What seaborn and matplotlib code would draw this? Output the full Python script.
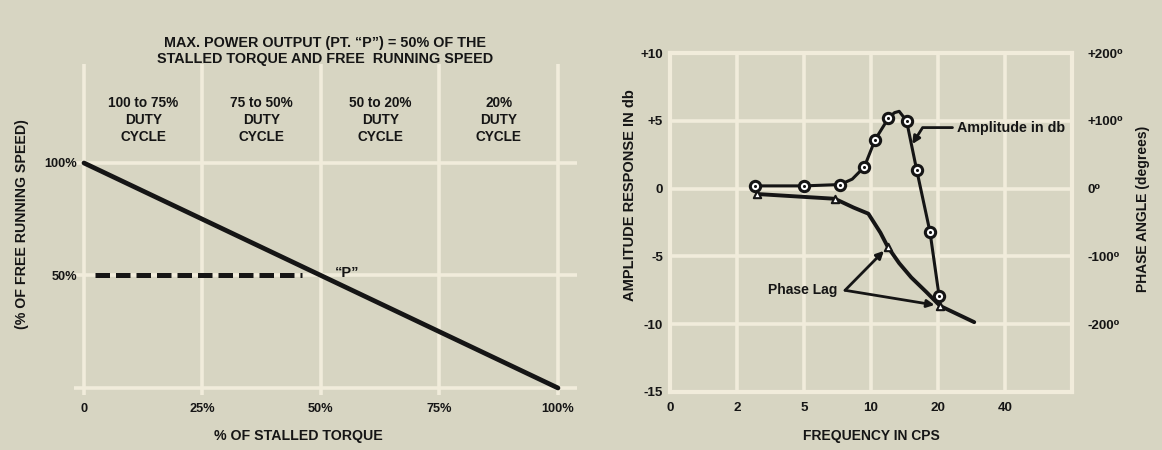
import numpy as np
import matplotlib
matplotlib.use("Agg")
import matplotlib.pyplot as plt
import seaborn as sns

# left chart: speed / torque
torque_pct = [0, 100]
speed_pct = [100, 0]
p_dash_x = [2.3, 46]
p_dash_y = [50, 50]
p_label_xy = (55.5, 51)
duty_x = [12.5, 37.5, 62.5, 87.5]
duty_labels = ["100 to 75%\nDUTY\nCYCLE", "75 to 50%\nDUTY\nCYCLE",
               "50 to 20%\nDUTY\nCYCLE", "20%\nDUTY\nCYCLE"]
torque_ticks = [0, 25, 50, 75, 100]
torque_ticklabels = ["0", "25%", "50%", "75%", "100%"]
speed_ticks = [0, 50, 100]
speed_ticklabels = ["", "50%", "100%"]

# right chart: frequency response
freq_ticks = [0, 2, 5, 10, 20, 40, 80]
freq_ticklabels = ["0", "2", "5", "10", "20", "40", ""]
amp_freq = [2.8, 5.0, 7.7, 9.5, 10.6, 12.6, 15.3, 16.8, 18.8, 20.3]
amp_db = [0.2, 0.2, 0.3, 1.6, 3.6, 5.2, 5.0, 1.4, -3.2, -7.9]
amp_curve_freq = [2.8, 5.0, 7.7, 8.6, 9.5, 10.6, 12.6, 13.5, 14.2, 15.3, 16.8, 18.8, 20.3]
amp_curve_db = [0.2, 0.2, 0.3, 0.7, 1.6, 3.6, 5.2, 5.6, 5.7, 5.0, 1.4, -3.2, -7.9]
phase_freq = [2.9, 7.3, 12.5, 20.6]
phase_deg = [-8, -15, -86, -173]
phase_curve_freq = [2.9, 7.3, 8.7, 9.8, 11.4, 12.5, 14.2, 16.0, 18.3, 20.6, 30.8]
phase_curve_deg = [-8, -15, -28, -37, -65, -86, -110, -131, -153, -173, -197]
db_ticks = [-15, -10, -5, 0, 5, 10]
db_ticklabels = ["-15", "-10", "-5", "0", "+5", "+10"]
deg_ticks = [-200, -100, 0, 100, 200]
deg_ticklabels = ["-200\u2070", "-100\u2070", "0\u2070", "+100\u2070", "+200\u2070"]

paper = "#d7d5c2"
grid_c = "#f1ecdb"
ink = "#151515"

sns.set_theme(style="white", rc={"axes.facecolor": paper, "figure.facecolor": paper,
                                 "text.color": ink, "xtick.color": ink, "ytick.color": ink,
                                 "axes.labelcolor": ink, "axes.labelweight": "bold"})
plt.rcParams["font.family"] = ["Liberation Sans", "DejaVu Sans"]
plt.rcParams["font.weight"] = "bold"

fig = plt.figure(figsize=(11.62, 4.5), dpi=100)

# ---------------- left chart
ax = fig.add_axes([0.0641, 0.1228, 0.4324, 0.735])
ax.patch.set_visible(False)
ax.set_xlim(-2, 104)
ax.set_ylim(-3, 144)
ax.set_xticks(torque_ticks)
ax.set_xticklabels(torque_ticklabels)
ax.set_yticks(speed_ticks)
ax.set_yticklabels(speed_ticklabels)
ax.grid(True, color=grid_c, lw=2.6)
ax.set_axisbelow(True)
for s in ax.spines.values():
    s.set_visible(False)
ax.tick_params(length=0, labelsize=9.2)
ax.tick_params(axis="x", pad=6)
ax.tick_params(axis="y", pad=-2)

sns.lineplot(x=torque_pct, y=speed_pct, ax=ax, color=ink, lw=3.4)
sns.lineplot(x=p_dash_x, y=p_dash_y, ax=ax, color=ink, lw=3.6, dashes=False,
             linestyle=(0, (2.9, 1.2)))
ax.text(p_label_xy[0], p_label_xy[1], "\u201cP\u201d", fontsize=10.5, ha="center", va="center")
for x, lab in zip(duty_x, duty_labels):
    ax.text(x, 119, lab, fontsize=9.8, ha="center", va="center", linespacing=1.25)

ax.set_xlabel("% OF STALLED TORQUE", fontsize=10.2)
ax.xaxis.set_label_coords(0.445, -0.1035)
ax.set_ylabel("(% OF FREE RUNNING SPEED)", fontsize=10.2)
ax.yaxis.set_label_coords(-0.090, 0.516)
fig.text(325 / 1162, 1 - 51 / 450,
         "MAX. POWER OUTPUT (PT. \u201cP\u201d) = 50% OF THE\nSTALLED TORQUE AND FREE  RUNNING SPEED",
         ha="center", va="center", fontsize=10.4, linespacing=1.1)

# ---------------- right chart
def fwd(f):
    return np.interp(f, freq_ticks, np.arange(len(freq_ticks)))

def inv(p):
    return np.interp(p, np.arange(len(freq_ticks)), freq_ticks)

ar = fig.add_axes([0.5766, 0.1289, 0.346, 0.7533])
ar.set_xscale("function", functions=(fwd, inv))
ar.set_xlim(0, 80)
ar.set_ylim(-15, 10)
ar.set_xticks(freq_ticks)
ar.set_xticklabels(freq_ticklabels)
ar.set_yticks(db_ticks)
ar.set_yticklabels(db_ticklabels)
ar.grid(True, color=grid_c, lw=2.6)
ar.set_axisbelow(True)
for s in ar.spines.values():
    s.set_color(grid_c)
    s.set_linewidth(3)
ar.tick_params(length=0, labelsize=9.6)
ar.tick_params(axis="x", pad=7)
ar.tick_params(axis="y", pad=5)

sns.lineplot(x=amp_curve_freq, y=amp_curve_db, ax=ar, color=ink, lw=2.2, sort=False)
sns.scatterplot(x=amp_freq, y=amp_db, ax=ar, marker="o", s=55, color="white",
                edgecolor=ink, linewidth=2.2, zorder=5)
sns.scatterplot(x=amp_freq, y=amp_db, ax=ar, marker="o", s=5, color=ink,
                edgecolor=ink, linewidth=0, zorder=6)
ar.annotate("Amplitude in db",
            xy=(np.mean(amp_freq[6:8]), np.mean(amp_db[6:8])), xytext=(25.7, 4.5),
            fontsize=10.3, va="center", ha="left",
            arrowprops=dict(arrowstyle="-|>", color=ink, lw=2, mutation_scale=11,
                            connectionstyle="angle,angleA=0,angleB=58,rad=0",
                            shrinkA=1, shrinkB=1))
ar.set_xlabel("FREQUENCY IN CPS", fontsize=10)
ar.xaxis.set_label_coords(0.502, -0.109)
ar.set_ylabel("AMPLITUDE RESPONSE IN db", fontsize=10.5)
ar.yaxis.set_label_coords(-0.082, 0.581)

ap = ar.twinx()
ap.set_ylim(-300, 200)
ap.set_yticks(deg_ticks)
ap.set_yticklabels(deg_ticklabels)
for s in ap.spines.values():
    s.set_visible(False)
ap.tick_params(length=0, labelsize=9.6, pad=11)
ap.grid(False)
sns.lineplot(x=phase_curve_freq, y=phase_curve_deg, ax=ap, color=ink, lw=2.8, sort=False)
sns.scatterplot(x=phase_freq, y=phase_deg, ax=ap, marker="^", s=28, color="white",
                edgecolor=ink, linewidth=1.5, zorder=5)
ap.text(7.5, -150, "Phase Lag", fontsize=10, ha="right", va="center")
for i in (2, 3):
    ap.annotate("", xy=(phase_freq[i], phase_deg[i]), xytext=(8.06, -150),
                arrowprops=dict(arrowstyle="-|>", color=ink, lw=2, mutation_scale=11,
                                shrinkA=0, shrinkB=4))
ap.set_ylabel("PHASE ANGLE (degrees)", fontsize=10, rotation=90)
ap.yaxis.set_label_coords(1.159, 0.54)

fig.savefig("out.png", dpi=100, facecolor=paper)
